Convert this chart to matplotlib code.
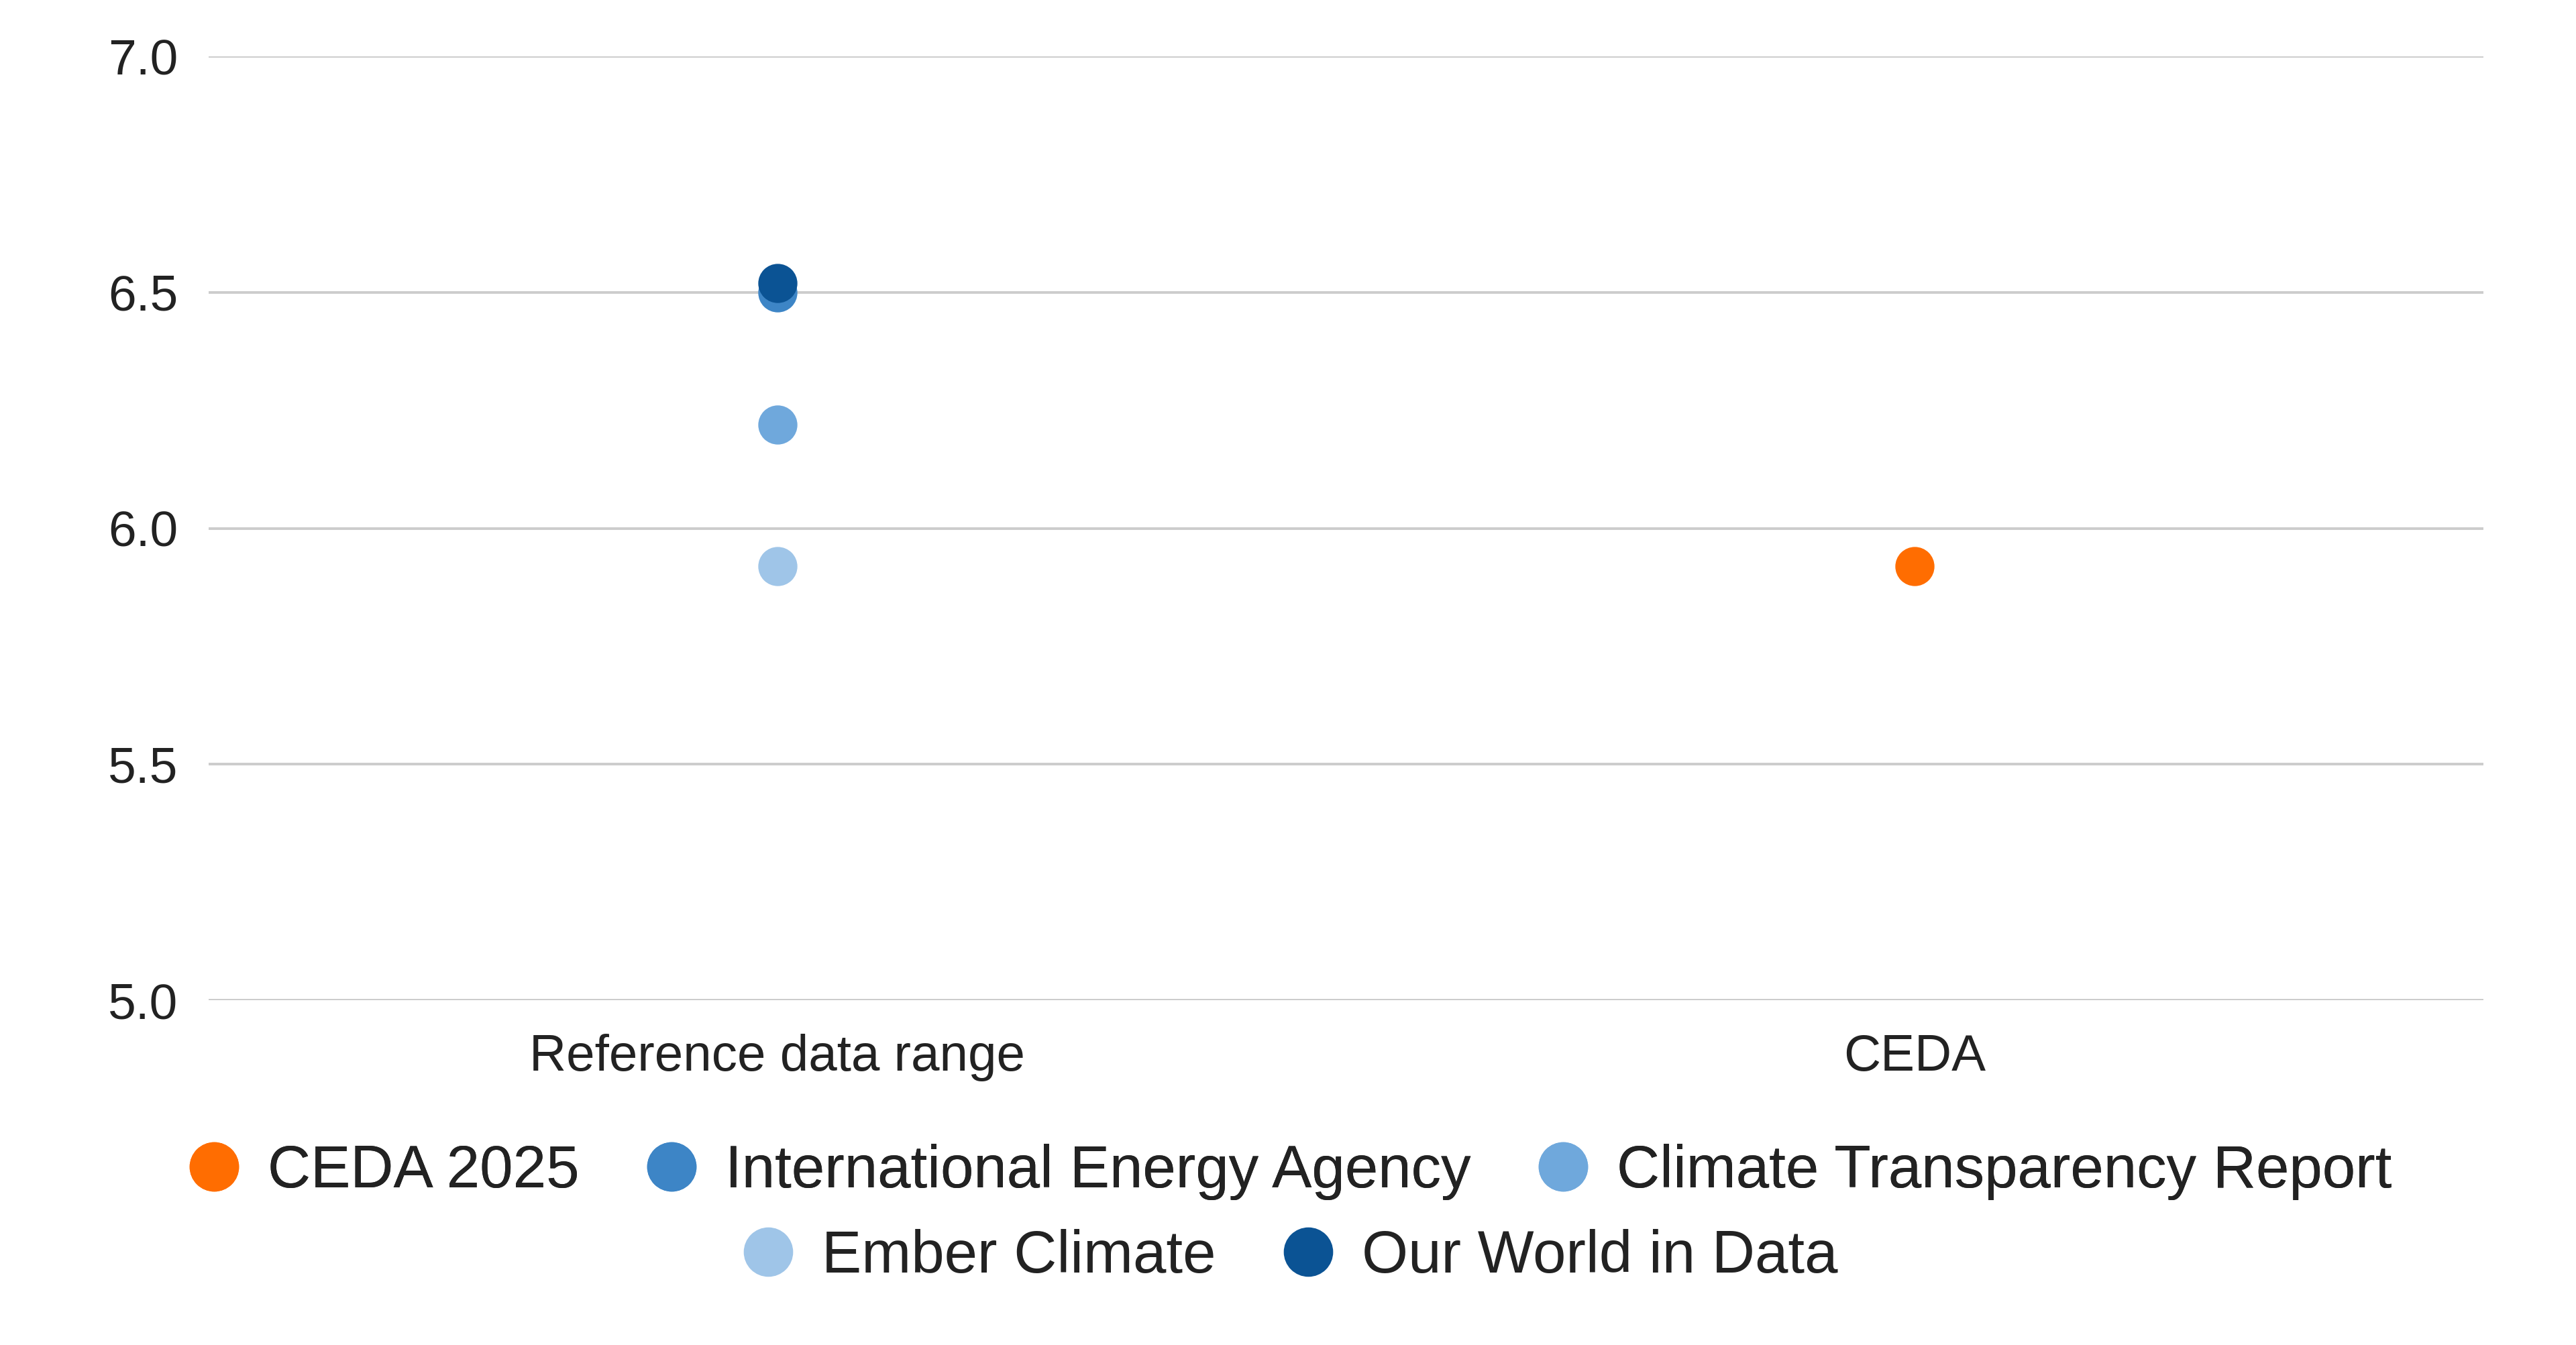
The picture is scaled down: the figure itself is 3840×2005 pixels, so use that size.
import matplotlib.pyplot as plt
from matplotlib.lines import Line2D

plt.rcParams['font.family'] = ['Liberation Sans', 'DejaVu Sans']

# categories on the x axis
categories = ['Reference data range', 'CEDA']

# series: (label, category index, value, colour)
series_names = ['CEDA 2025', 'International Energy Agency', 'Climate Transparency Report',
                'Ember Climate', 'Our World in Data']
series_cat = [1, 0, 0, 0, 0]
series_vals = [5.92, 6.50, 6.22, 5.92, 6.52]
series_colors = ['#ff6d01', '#3d85c6', '#6fa8dc', '#9fc5e8', '#0b5394']

yticks = [5.0, 5.5, 6.0, 6.5, 7.0]

fig = plt.figure(figsize=(38.4, 20.05), dpi=100, facecolor='w')
ax = fig.add_axes([0.081, 0.2563, 0.883, 0.7017])

for name, c, v, col in zip(series_names, series_cat, series_vals, series_colors):
    ax.plot([c], [v], 'o', ms=41, color=col, mec=col, label=name, zorder=3)

ax.set_xlim(-0.5, 1.5)
ax.set_ylim(5.0, 7.0)
ax.set_yticks(yticks)
ax.set_yticklabels(['%.1f' % t for t in yticks], fontsize=54, color='#222222')
ax.set_xticks(range(len(categories)))
ax.set_xticklabels(categories, fontsize=55, color='#222222')
ax.tick_params(axis='y', length=0, pad=33)
ax.tick_params(axis='x', length=0, pad=36)
ax.grid(axis='y', color='#cccccc', lw=2.8)
ax.set_axisbelow(True)
for s in ax.spines.values():
    s.set_visible(False)

# legend in two centred rows
handles = [Line2D([], [], ls='none', marker='o', ms=52, color=col) for col in series_colors]
leg_kw = dict(loc='center', frameon=False, fontsize=64, handlelength=1.0, handletextpad=0.4,
              columnspacing=1.05, borderpad=0)
leg1 = fig.legend(handles[:3], series_names[:3], bbox_to_anchor=(0.5, 1 - 1747 / 2005),
                  ncol=3, **leg_kw)
fig.add_artist(leg1)
leg2 = fig.legend(handles[3:], series_names[3:], bbox_to_anchor=(0.5, 1 - 1874 / 2005),
                  ncol=2, **leg_kw)
for leg in (leg1, leg2):
    for t in leg.get_texts():
        t.set_color('#222222')

fig.savefig('out.png', dpi=100)
